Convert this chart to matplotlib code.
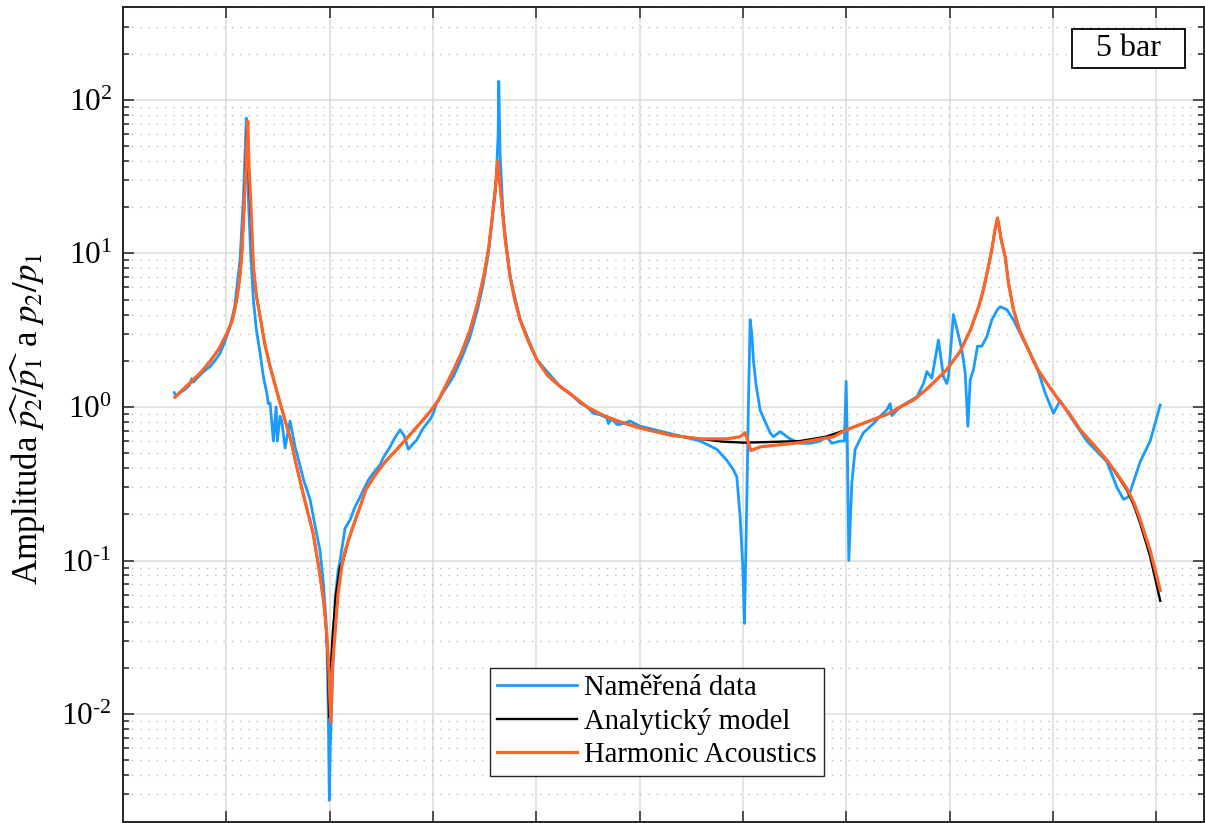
import matplotlib
matplotlib.use("Agg")
import matplotlib.pyplot as plt
from matplotlib.patches import Rectangle
from matplotlib.ticker import LogLocator, FixedLocator, NullFormatter, FuncFormatter
import numpy as np

plt.rcParams["font.family"] = "serif"
plt.rcParams["font.serif"] = ["Liberation Serif", "DejaVu Serif"]
plt.rcParams["mathtext.fontset"] = "stix"
plt.rcParams["axes.unicode_minus"] = False

# Measured transfer amplitude
meas_f = [49.6, 51, 55, 60, 64, 66.5, 68, 72, 78, 84.2, 90, 93.9, 98, 103.6, 108,
          113.2, 116.4, 118, 119.3, 120.3, 121.3, 123.5, 126.1, 129, 132.6, 136,
          139.1, 140.6, 142.3, 145.5, 148.1, 149.3, 151.9, 153.6, 156.8, 161.6,
          166.5, 170, 175, 181.0, 185, 190.6, 194, 197.1, 198.7, 199.6, 200.5,
          202.0, 205.2, 208, 210.0, 214.8, 219.7, 224, 229.4, 237.4, 242, 248.7,
          252, 258.4, 263, 268.1, 272, 276.1, 280, 284.2, 290, 297.1, 300.3,
          303.6, 310, 319.7, 328, 335.8, 343, 348.7, 353, 356.8, 361.0, 362.9,
          363.6, 364.8, 368.0, 374.5, 384.2, 400.4, 422.9, 432.6, 442.3, 449,
          455.1, 461.6, 468.1, 469.7, 472.9, 477.8, 481.0, 490.6, 500.3, 526.2,
          558.4, 574.6, 584.2, 590.6, 593.9, 597.1, 599.7, 601.3, 603.6, 605.2,
          606.8, 608.4, 610.0, 612.5, 616.5, 626.1, 629.3, 635.8, 645.4, 655.1,
          664.8, 674.5, 681.0, 685.8, 693.9, 698.0, 699.7, 700.8, 702.3, 705.2,
          708.4, 716.4, 726.1, 732.6, 739.1, 742.3, 743.9, 751.9, 760, 768.1,
          774.5, 777.8, 782.6, 789.0, 793.9, 797.1, 798.7, 803.5, 808, 811.7,
          814.9, 817.5, 819.7, 822.9, 826.8, 831.0, 835.8, 840.7, 846, 848.7,
          855.2, 861.6, 871.3, 884.2, 892.3, 900.3, 906.8, 916.5, 932.6, 952.0,
          961.7, 968.1, 972.9, 984.2, 993.9, 1003.6]
meas_a = [1.24, 1.18, 1.24, 1.3, 1.38, 1.53, 1.45, 1.55, 1.7, 1.83, 2.05, 2.24, 2.6,
          3.34, 4.5, 9.1, 22.4, 45, 76, 50, 22.4, 10, 5.0, 3.2, 2.24, 1.55, 1.23,
          1.05, 1.06, 0.60, 1.0, 0.6, 0.87, 0.81, 0.54, 0.81, 0.55, 0.45, 0.33,
          0.25, 0.18, 0.116, 0.07, 0.034, 0.0093, 0.00275, 0.006, 0.0123, 0.056,
          0.085, 0.1, 0.162, 0.184, 0.22, 0.26, 0.335, 0.37, 0.42, 0.47, 0.55,
          0.63, 0.71, 0.65, 0.53, 0.57, 0.61, 0.72, 0.83, 0.91, 1.07, 1.25, 1.58,
          2.1, 2.87, 4.3, 6.4, 9.5, 15.8, 30, 58, 132, 45, 16.6, 7.08, 3.7, 2.03,
          1.36, 1.23, 1.06, 1.0, 0.91, 0.89, 0.85, 0.78, 0.84, 0.77, 0.77, 0.81,
          0.75, 0.68, 0.6, 0.53, 0.45, 0.39, 0.35, 0.193, 0.091, 0.039, 0.25, 1.1,
          3.7, 3.0, 2.0, 1.4, 0.95, 0.68, 0.64, 0.69, 0.62, 0.58, 0.58, 0.6, 0.64,
          0.58, 0.6, 0.6, 1.47, 0.6, 0.1, 0.32, 0.53, 0.68, 0.78, 0.87, 0.96, 1.05,
          0.88, 1.0, 1.08, 1.16, 1.42, 1.7, 1.54, 2.73, 1.57, 1.42, 1.57, 4.0,
          3.0, 2.35, 1.66, 0.75, 1.5, 1.75, 2.49, 2.49, 2.87, 3.7, 4.3, 4.5, 4.3,
          3.7, 2.73, 1.83, 1.23, 0.91, 1.1, 0.87, 0.6, 0.44, 0.3, 0.25, 0.26,
          0.44, 0.6, 1.03]

# Analytical model
model_f = [50.3, 58, 68, 76, 84.2, 93, 100.4, 106, 110, 113, 115, 117, 118.5, 119.5,
           120.2, 121.5, 123, 126, 129, 132.6, 137, 142.3, 149, 155, 162, 168,
           175, 184, 190, 194, 196, 198, 199.6, 201, 203, 206, 210, 213, 218, 223,
           230, 235, 245, 255, 265, 275, 285, 297, 305, 320, 328, 336, 343, 349,
           354, 357, 360, 361.5, 362.6, 364, 366.5, 370, 374.5, 379, 384.2, 392,
           400.4, 411, 423, 436, 449, 465, 481, 500, 530, 558, 580, 600, 620, 655,
           680, 700, 720, 740, 752, 765, 780, 797, 810, 820, 828, 832.5, 837,
           840.7, 843.5, 846.1, 848, 850, 853.6, 856.8, 861.6, 868, 874.6, 884,
           893.9, 905, 916, 926.1, 940, 952, 962, 971.4, 978, 984.2, 990, 993.9,
           999, 1003.6]
model_a = [1.16, 1.3, 1.50, 1.70, 1.98, 2.4, 3.0, 3.7, 5.0, 7.0, 10, 19, 35, 55, 70,
           35, 22, 8.2, 5.3, 3.9, 2.6, 1.83, 1.25, 0.9, 0.62, 0.41, 0.26, 0.15,
           0.085, 0.055, 0.04, 0.024, 0.0095, 0.02, 0.034, 0.06, 0.091, 0.10,
           0.135, 0.17, 0.23, 0.29, 0.37, 0.45, 0.53, 0.63, 0.75, 0.93, 1.1, 1.75,
           2.3, 3.2, 4.7, 7.1, 11, 16.6, 25, 33, 39.8, 32, 21, 12, 7.1, 5.0, 3.7,
           2.7, 2.03, 1.6, 1.36, 1.17, 1.0, 0.88, 0.80, 0.73, 0.655, 0.62, 0.595,
           0.586, 0.59, 0.60, 0.64, 0.71, 0.80, 0.90, 1.0, 1.11, 1.35, 1.75, 2.3,
           3.18, 4.5, 5.8, 8.0, 10.6, 14, 17.0, 14.5, 12, 9.5, 6.4, 4.3, 3.1, 2.48,
           1.8, 1.43, 1.12, 0.9, 0.71, 0.56, 0.45, 0.36, 0.288, 0.23, 0.175, 0.13,
           0.106, 0.075, 0.0547]

# Harmonic Acoustics simulation
sim_f = [50.3, 58, 68, 76, 84.2, 93, 100.4, 106, 110, 113, 115, 117, 118.8, 120.0,
         120.7, 122.0, 123.5, 126.1, 129, 132.6, 137, 142.3, 149, 155, 162, 168,
         175, 184, 190, 194, 197, 199, 201.0, 202.5, 205.2, 208, 211.6, 214, 218,
         223, 230, 235, 245, 255, 265, 275, 285, 297, 305, 320, 328, 336, 343,
         349, 354, 357, 360, 361.5, 362.6, 364, 366.5, 370, 374.5, 379, 384.2,
         392, 400.4, 411, 423, 436, 449, 465, 481, 500, 530, 558.4, 584.2, 597,
         602.0, 607.5, 616.5, 655.1, 687.4, 700, 720, 740, 752, 765, 780, 797,
         810, 820, 828, 832.5, 837, 840.7, 843.5, 846.1, 848, 850, 853.6, 856.8,
         861.6, 868, 874.6, 884, 893.9, 905, 916, 926.1, 940, 952, 962, 971.4,
         978, 984.2, 990, 993.9, 999, 1003.6]
sim_a = [1.16, 1.3, 1.50, 1.70, 1.98, 2.4, 3.0, 3.7, 5.0, 7.0, 10, 19, 35, 58, 72.5,
         35, 22.4, 8.2, 5.3, 3.9, 2.6, 1.83, 1.25, 0.9, 0.62, 0.41, 0.26, 0.15,
         0.085, 0.055, 0.034, 0.02, 0.0089, 0.02, 0.034, 0.06, 0.091, 0.11,
         0.135, 0.17, 0.23, 0.29, 0.37, 0.45, 0.53, 0.63, 0.75, 0.93, 1.1, 1.75,
         2.3, 3.2, 4.7, 7.1, 11, 16.6, 25, 33, 39.8, 32, 21, 12, 7.1, 5.0, 3.7,
         2.7, 2.03, 1.6, 1.36, 1.17, 1.0, 0.88, 0.80, 0.73, 0.655, 0.62, 0.62,
         0.64, 0.68, 0.52, 0.55, 0.586, 0.64, 0.71, 0.80, 0.90, 1.0, 1.11, 1.35,
         1.75, 2.3, 3.18, 4.5, 5.8, 8.0, 10.6, 14, 17.0, 14.5, 12, 9.5, 6.4, 4.3,
         3.1, 2.48, 1.8, 1.43, 1.12, 0.9, 0.71, 0.56, 0.45, 0.365, 0.295, 0.24,
         0.185, 0.14, 0.116, 0.085, 0.064]

x_ticks = [100, 200, 300, 400, 500, 600, 700, 800, 900, 1000]
series_names = ["Naměřená data", "Analytický model", "Harmonic Acoustics"]


def decade_label(val, pos):
    e = int(round(np.log10(val)))
    s = str(e).replace("-", r"\text{-}")
    return r"$\mathdefault{10^{%s}}$" % s


fig = plt.figure(figsize=(12.05, 8.23), dpi=100)
ax = fig.add_axes([0.1021, 0.0018, 0.8971, 0.9893])

ax.semilogy(meas_f, meas_a, color="#1a9bff", lw=2.0, label=series_names[0], zorder=3)
ax.semilogy(model_f, model_a, color="black", lw=1.7, label=series_names[1], zorder=4)
ax.semilogy(sim_f, sim_a, color="#ff6428", lw=2.3, label=series_names[2], zorder=5)

ax.set_xlim(0, 1046)
ax.set_ylim(2.0e-3, 4.0e2)
ax.xaxis.set_major_locator(FixedLocator(x_ticks))
ax.xaxis.set_major_formatter(NullFormatter())
ax.yaxis.set_major_locator(LogLocator(base=10, numticks=20))
ax.yaxis.set_major_formatter(FuncFormatter(decade_label))
ax.yaxis.set_minor_locator(LogLocator(base=10, subs=range(2, 10), numticks=50))
ax.yaxis.set_minor_formatter(NullFormatter())

ax.grid(True, which="major", axis="both", color="#dcdcdc", lw=1.1, zorder=0)
ax.grid(True, which="minor", axis="y", color="#bdbdbd", lw=1.0,
        linestyle=(0, (1, 5)), zorder=0)
ax.set_axisbelow(True)

ax.tick_params(which="both", direction="in", top=True, right=True,
               color="#262626", width=1.1)
ax.tick_params(which="major", length=8, labelsize=22.5, pad=8)
ax.tick_params(which="minor", length=4)
for sp in ax.spines.values():
    sp.set_color("#262626")
    sp.set_linewidth(1.4)

ax.set_ylabel(r"Amplituda $\widehat{p_2}/\widehat{p_1}$ a $p_2/p_1$", fontsize=25)
ax.yaxis.set_label_coords(-0.069, 0.495)

leg = ax.legend(loc="lower left", bbox_to_anchor=(0.3395, 0.0564), borderaxespad=0,
                fontsize=20.6, handlelength=2.8, handletextpad=0.25, labelspacing=0.25,
                borderpad=0.25, fancybox=False, framealpha=1, edgecolor="#262626")
leg.get_frame().set_linewidth(1.0)

ax.add_patch(Rectangle((0.8779, 0.9252), 0.1045, 0.0479, transform=ax.transAxes,
                       fc="white", ec="black", lw=1.3, zorder=6))
ax.text(0.930, 0.949, "5 bar", transform=ax.transAxes, fontsize=23,
        ha="center", va="center", zorder=7)

fig.savefig("out.png", dpi=100)
